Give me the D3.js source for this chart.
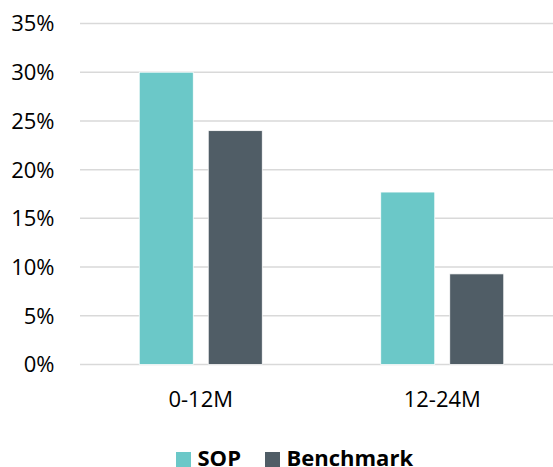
<!DOCTYPE html>
<html>
<head>
<meta charset="utf-8">
<script src="https://cdn.jsdelivr.net/npm/d3@7"></script>
<style>
  body { margin: 0; background: #fff; }
  svg text { font-family: "Open Sans", sans-serif; fill: #000; }
</style>
</head>
<body>
<svg id="chart" width="553" height="467"></svg>
<script>
const categories = ["0-12M", "12-24M"];
const series = ["SOP", "Benchmark"];
const sopValues = [30, 17.7];
const benchmarkValues = [24, 9.3];
const yTicks = [0, 5, 10, 15, 20, 25, 30, 35];

const colors = { "SOP": "#6bc8c8", "Benchmark": "#505d66" };

const rows = [];
categories.forEach((c, i) => {
  rows.push({ cat: c, series: "SOP", value: sopValues[i] });
  rows.push({ cat: c, series: "Benchmark", value: benchmarkValues[i] });
});

const svg = d3.select("#chart");
const left = 80, right = 553;

const x0 = d3.scaleBand().domain(categories).range([left, left + 483]);
const x1 = d3.scaleBand().domain(series).range([-61.5, 61.5]).paddingInner(15 / 69);
const y = d3.scaleLinear().domain([0, 35]).range([364.5, 23.5]);

// grid lines
svg.append("g")
  .selectAll("line")
  .data(yTicks)
  .join("line")
    .attr("x1", left)
    .attr("x2", right)
    .attr("y1", d => y(d))
    .attr("y2", d => y(d))
    .attr("stroke", "#d9d9d9")
    .attr("stroke-width", 1.5);

// y labels
svg.append("g")
  .selectAll("text")
  .data(yTicks)
  .join("text")
    .attr("x", 54.5)
    .attr("y", d => y(d))
    .attr("dy", "0.36em")
    .attr("text-anchor", "end")
    .attr("font-size", "22px")
    .text(d => d + "%");

// bars
svg.append("g")
  .selectAll("rect")
  .data(rows)
  .join("rect")
    .attr("x", d => x0(d.cat) + x0.bandwidth() / 2 + x1(d.series))
    .attr("y", d => y(d.value))
    .attr("width", x1.bandwidth())
    .attr("height", d => y(0) - y(d.value))
    .attr("fill", d => colors[d.series])
    .attr("stroke", "#fff")
    .attr("stroke-width", 0.75);

// x labels
svg.append("g")
  .selectAll("text")
  .data(categories)
  .join("text")
    .attr("x", d => x0(d) + x0.bandwidth() / 2)
    .attr("y", 406.5)
    .attr("text-anchor", "middle")
    .attr("font-size", "22px")
    .text(d => d);

// legend
const legendX = [176, 265];
const legend = svg.append("g")
  .selectAll("g")
  .data(series)
  .join("g")
    .attr("transform", (d, i) => `translate(${legendX[i]},452)`);

legend.append("rect")
  .attr("width", 15)
  .attr("height", 15)
  .attr("fill", d => colors[d]);

legend.append("text")
  .attr("x", 21.5)
  .attr("y", 14)
  .attr("font-size", "22px")
  .attr("font-weight", "bold")
  .text(d => d);
</script>
</body>
</html>
